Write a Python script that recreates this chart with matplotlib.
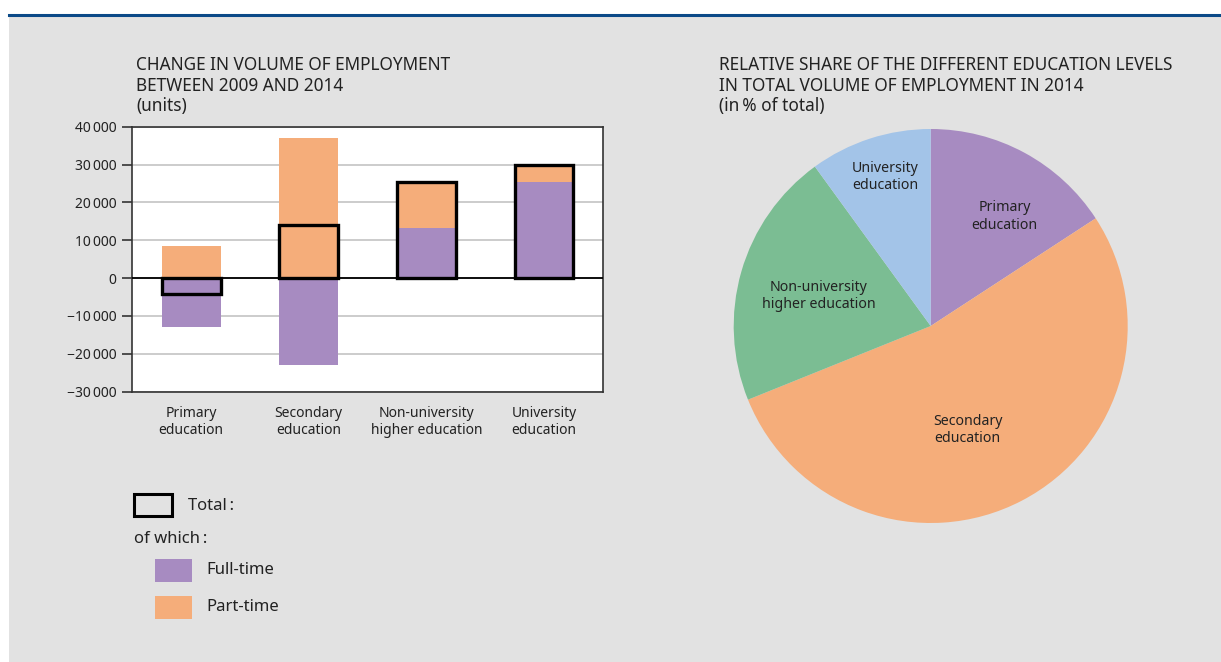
import matplotlib
matplotlib.use("Agg")
import matplotlib.pyplot as plt
from matplotlib.patches import Rectangle
from matplotlib.lines import Line2D
import numpy as np

plt.rcParams['font.family'] = ['Noto Sans', 'DejaVu Sans']

# change in volume of employment 2009-2014 (units)
levels = ["Primary\neducation", "Secondary\neducation",
          "Non-university\nhigher education", "University\neducation"]
full_time = [-12800, -23000, 13300, 25400]
part_time = [8500, 37000, 12000, 4500]
yticks = [-30000, -20000, -10000, 0, 10000, 20000, 30000, 40000]

# share in total volume of employment 2014 (%)
pie_labels = ["Primary\neducation", "Secondary\neducation",
              "Non-university\nhigher education", "University\neducation"]
pie_share = [15.8, 53.1, 21.1, 10.0]
pie_label_dist = [0.67, 0.56, 0.59, 0.79]
pie_label_turn = [-5.5, -8.0, 1.0, -1.0]   # degrees off the wedge middle

PURPLE = "#a78bc1"
ORANGE = "#f5ad7a"
GREEN = "#7bbd93"
BLUE = "#a3c4e8"
PANEL = "#e2e2e2"
TXT = "#222222"

W, H = 1221, 662
fig = plt.figure(figsize=(W / 100, H / 100), dpi=100)
fig.patch.set_facecolor("white")

# grey panel and the blue rule on top
fig.add_artist(Rectangle((9 / W, 0), 1 - 9 / W, (H - 15) / H, transform=fig.transFigure,
                         facecolor=PANEL, edgecolor="none", zorder=0))
fig.add_artist(Line2D([9 / W, 1], [1 - 14.5 / H] * 2, transform=fig.transFigure,
                      color="#0b4a88", lw=2.2, zorder=1))

def fx(px):
    return px / W

def fy(py):
    return 1 - py / H

# ---- bar chart ----
ax = fig.add_axes([fx(132.3), fy(391.7), fx(602.7) - fx(132.3), fy(126.7) - fy(391.7)])
ax.set_facecolor("white")
x = np.arange(len(levels))
bw = 0.5
pos_base = np.zeros(len(levels))
neg_base = np.zeros(len(levels))
for vals, col in ((full_time, PURPLE), (part_time, ORANGE)):
    vals = np.array(vals, dtype=float)
    bottoms = np.where(vals >= 0, pos_base, neg_base)
    ax.bar(x, vals, bw, bottom=bottoms, color=col, edgecolor="none", zorder=2)
    pos_base += np.where(vals >= 0, vals, 0)
    neg_base += np.where(vals < 0, vals, 0)

totals = np.array(full_time) + np.array(part_time)
ax.bar(x, totals, bw, fill=False, edgecolor="black", linewidth=2.4, zorder=4)
ax.axhline(0, color="black", lw=1.3, zorder=3)

ax.set_xlim(-0.5, 3.5)
ax.set_ylim(-30000, 40000)
ax.set_yticks(yticks)
ax.set_yticklabels([f"{abs(v):,}".replace(",", "\u2009") if v >= 0 else
                    "\u2212" + f"{abs(v):,}".replace(",", "\u2009") for v in yticks],
                   fontsize=10, color=TXT)
ax.yaxis.grid(True, color="#c4c4c4", lw=1.2, zorder=1)
ax.set_axisbelow(True)
ax.tick_params(axis="y", direction="out", length=7.5, width=1.2, color="#333333", pad=4)
ax.set_xticks(x)
ax.set_xticklabels(levels, fontsize=10, color=TXT, linespacing=1.2)
ax.tick_params(axis="x", length=0, pad=10)
for s in ax.spines.values():
    s.set_color("#333333")
    s.set_linewidth(1.2)

fig.text(fx(136), fy(56), "CHANGE IN VOLUME OF EMPLOYMENT\nBETWEEN 2009 AND 2014\n(units)",
         fontsize=12.4, color=TXT, va="top", ha="left", linespacing=1.18)

# legend drawn by hand
fig.add_artist(Rectangle((fx(133.5), fy(516)), fx(172.3) - fx(133.5), fy(493.5) - fy(516),
                         transform=fig.transFigure, fill=False, edgecolor="black", lw=2.2))
fig.text(fx(188), fy(506.5), "Total\u2009:", fontsize=12, color=TXT, va="center", ha="left")
fig.text(fx(134.5), fy(539), "of which\u2009:", fontsize=12, color=TXT, va="center", ha="left")
for yc, col, lab in ((570, PURPLE, "Full-time"), (607, ORANGE, "Part-time")):
    fig.add_artist(Rectangle((fx(155), fy(yc + 11.5)), fx(191.7) - fx(155), fy(yc - 11.5) - fy(yc + 11.5),
                             transform=fig.transFigure, facecolor=col, edgecolor="none"))
    fig.text(fx(206.5), fy(yc), lab, fontsize=12, color=TXT, va="center", ha="left")

# ---- pie chart ----
cx, cy, r = 930.7, 326, 197
pax = fig.add_axes([fx(cx - r), fy(cy + r), fx(2 * r), fy(cy - r) - fy(cy + r)])
pax.set_facecolor("none")
wedges, _ = pax.pie(pie_share, colors=[PURPLE, ORANGE, GREEN, BLUE], startangle=90,
                    counterclock=False, radius=1,
                    wedgeprops=dict(edgecolor="none"))
for w, lab, d, turn in zip(wedges, pie_labels, pie_label_dist, pie_label_turn):
    mid = np.deg2rad((w.theta1 + w.theta2) / 2 + turn)
    pax.text(d * np.cos(mid), d * np.sin(mid), lab, ha="center", va="center",
             fontsize=10.2, color=TXT, linespacing=1.2)
pax.set_xlim(-1, 1)
pax.set_ylim(-1, 1)
pax.set_aspect("equal")
pax.axis("off")

fig.text(fx(719), fy(56),
         "RELATIVE SHARE OF THE DIFFERENT EDUCATION LEVELS\nIN TOTAL VOLUME OF EMPLOYMENT IN 2014\n(in\u2009% of total)",
         fontsize=12.4, color=TXT, va="top", ha="left", linespacing=1.18)

fig.savefig("out.png", dpi=100, facecolor=fig.get_facecolor())
